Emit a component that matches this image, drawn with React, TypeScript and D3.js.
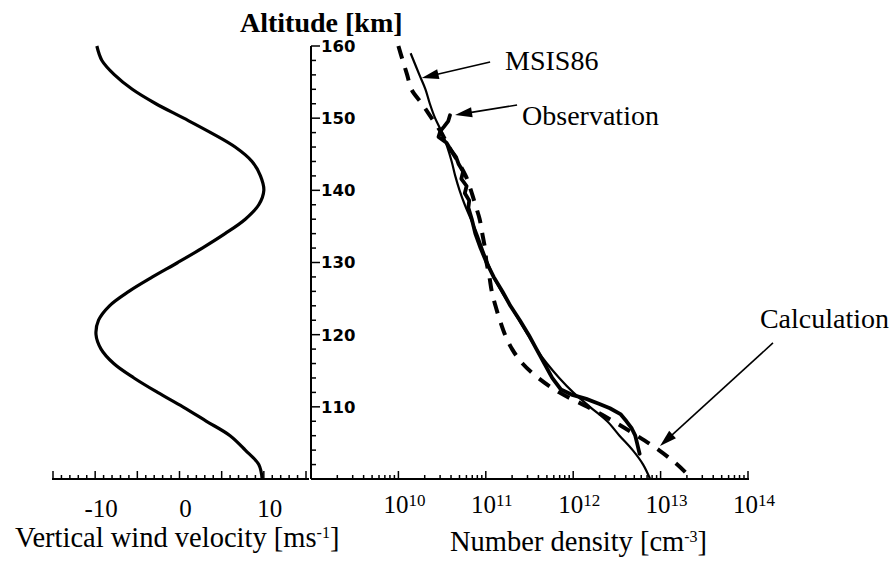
import React from 'react';
import * as d3 from 'd3';

// Vertical wind profile (altitude km, wind m/s)
const windAltitude = [100, 102, 104, 106, 108, 110, 112, 114, 116, 118, 120, 122, 124, 126, 128, 130, 132, 134, 136, 138, 140, 142, 144, 146, 148, 150, 152, 154, 156, 158, 160];
const windSpeed = [9.8, 9.4, 7.8, 6.0, 3.2, 0.4, -2.6, -5.4, -7.8, -9.3, -9.9, -9.6, -8.3, -6.0, -3.2, -0.2, 2.7, 5.4, 7.8, 9.4, 10.0, 9.6, 8.6, 6.6, 3.7, 0.5, -2.8, -5.6, -7.7, -9.2, -9.8];

// MSIS86 model density (cm^-3)
const msisAltitude = [159, 156, 154, 152, 150, 148, 146, 144, 142, 140, 138, 136, 134, 132, 130, 128, 126, 124, 122, 120, 118, 116, 114, 112, 110, 108, 106, 104, 102, 100];
const msisDensity = [1.38e10, 1.74e10, 2.04e10, 2.29e10, 2.63e10, 3.16e10, 3.63e10, 4.07e10, 4.47e10, 5.01e10, 5.75e10, 6.76e10, 7.94e10, 9.12e10, 1.05e11, 1.23e11, 1.51e11, 1.91e11, 2.40e11, 3.02e11, 3.80e11, 5.01e11, 6.92e11, 1.0e12, 1.55e12, 2.45e12, 3.39e12, 4.79e12, 6.31e12, 7.59e12];

// Observed density (cm^-3)
const obsAltitude = [150.4, 149.6, 148.8, 148.2, 147.4, 146.6, 145.6, 144.6, 143.6, 142.6, 141.6, 140.6, 139.6, 138.6, 137.6, 136, 134, 132, 130, 128, 126, 124, 122, 120, 118, 116, 114, 112.4, 111.7, 111.1, 110.4, 109.8, 109, 108, 107, 106, 105, 104, 103.5];
const obsDensity = [3.89e10, 3.72e10, 3.31e10, 3.02e10, 2.88e10, 3.55e10, 3.98e10, 4.57e10, 4.9e10, 5.5e10, 5.25e10, 6.03e10, 5.75e10, 6.46e10, 6.31e10, 6.92e10, 7.59e10, 8.71e10, 1.02e11, 1.23e11, 1.55e11, 1.91e11, 2.45e11, 3.09e11, 3.8e11, 4.68e11, 5.75e11, 7.24e11, 9.55e11, 1.41e12, 2.0e12, 2.63e12, 3.47e12, 4.07e12, 4.68e12, 5.13e12, 5.37e12, 5.62e12, 5.75e12];

// Calculated density (cm^-3)
const calcAltitude = [160, 158, 156, 154, 152, 150, 148, 146, 144, 142, 140, 138, 136, 134, 132, 130, 128, 126, 124, 122, 120, 118, 116, 114, 112, 110, 108, 106, 104, 102, 100];
const calcDensity = [1.0e10, 1.12e10, 1.26e10, 1.41e10, 1.86e10, 2.4e10, 3.09e10, 3.8e10, 4.79e10, 5.89e10, 6.76e10, 7.59e10, 8.51e10, 9.12e10, 9.77e10, 1.02e11, 1.1e11, 1.17e11, 1.29e11, 1.45e11, 1.66e11, 2.0e11, 2.63e11, 3.98e11, 6.92e11, 1.45e12, 2.88e12, 5.37e12, 9.55e12, 1.55e13, 2.29e13];

// Axis ticks
const altitudeLabels = [110, 120, 130, 140, 150, 160];
const windLabels = [-10, 0, 10];
const densityExponents = [10, 11, 12, 13, 14];

// Arrow annotations: [density, altitude] for text anchor, arrow tail and tip
const annotationLabels = ['MSIS86', 'Observation', 'Calculation'];
const annotationText = [[1.66e11, 156.67], [2.6e11, 149.05], [1.37e14, 120.92]];
const annotationTail = [[1.12e11, 157.78], [2.28e11, 151.82], [1.93e14, 118.85]];
const annotationTip = [[1.85e10, 155.57], [4.45e10, 150.44], [9.84e12, 104.57]];

const W = 893;
const H = 563;
const AXIS_Y = 479;
const serif = "'Liberation Serif', 'Times New Roman', serif";
const sans = "'DejaVu Sans', sans-serif";

export default function App() {
  const yAlt = d3.scaleLinear().domain([100, 160]).range([AXIS_Y, 46]);
  const xWind = d3.scaleLinear().domain([-15, 15]).range([53, 306]);
  const xDen = d3.scaleLog().domain([1e9, 1e14]).range([311, 748]);
  const axisX = xDen(1e9);

  const windLine = d3
    .line<number>()
    .x((_, i) => xWind(windSpeed[i]))
    .y((d) => yAlt(d))
    .curve(d3.curveCatmullRom);

  const denLine = (dens: number[], curve: d3.CurveFactory) =>
    d3
      .line<number>()
      .x((_, i) => xDen(dens[i]))
      .y((d) => yAlt(d))
      .curve(curve);

  const windTicks = d3.range(-15, 16, 1);
  const altTicks = d3.range(102, 161, 2);
  const denTicks: { v: number; major: boolean }[] = [];
  for (let e = 9; e <= 13; e++) {
    for (let m = 1; m <= 9; m++) denTicks.push({ v: m * Math.pow(10, e), major: m === 1 });
  }
  denTicks.push({ v: 1e14, major: true });

  const arrows = annotationLabels.map((label, i) => {
    const tx = xDen(annotationTail[i][0]);
    const ty = yAlt(annotationTail[i][1]);
    const px = xDen(annotationTip[i][0]);
    const py = yAlt(annotationTip[i][1]);
    const dx = px - tx;
    const dy = py - ty;
    const len = Math.hypot(dx, dy);
    const ux = dx / len;
    const uy = dy / len;
    const headL = 17;
    const headW = 5;
    const bx = px - ux * headL;
    const by = py - uy * headL;
    const head = `M${px},${py}L${bx - uy * headW},${by + ux * headW}L${bx + uy * headW},${by - ux * headW}Z`;
    return {
      label,
      line: { x1: tx, y1: ty, x2: bx + ux * 2, y2: by + uy * 2 },
      head,
      textX: xDen(annotationText[i][0]),
      textY: yAlt(annotationText[i][1]),
    };
  });

  return (
    <svg
      width={W}
      height={H}
      viewBox={`0 0 ${W} ${H}`}
      style={{ position: 'absolute', left: 0, top: 0, background: '#fff' }}
    >
      <rect x={0} y={0} width={W} height={H} fill="#fff" />

      {/* Left panel: vertical wind */}
      <path d={windLine(windAltitude) || ''} fill="none" stroke="#000" strokeWidth={3.2} strokeLinejoin="round" />
      <line x1={52} x2={309} y1={AXIS_Y} y2={AXIS_Y} stroke="#000" strokeWidth={2} />
      {windTicks.map((v) => (
        <line
          key={`wt${v}`}
          x1={xWind(v)}
          x2={xWind(v)}
          y1={AXIS_Y}
          y2={AXIS_Y - (v % 5 === 0 ? 8 : 4)}
          stroke="#000"
          strokeWidth={1.5}
        />
      ))}
      {windLabels.map((v) => (
        <text key={`wl${v}`} x={xWind(v) + 6} y={517} textAnchor="middle" fontFamily={serif} fontSize={25}>
          {v}
        </text>
      ))}
      <text x={15} y={547} fontFamily={serif} fontSize={28.5}>
        Vertical wind velocity [ms
        <tspan fontSize={16} dy={-9}>-1</tspan>
        <tspan dy={9}>]</tspan>
      </text>

      {/* Altitude axis */}
      <line x1={axisX} x2={axisX} y1={46} y2={AXIS_Y} stroke="#000" strokeWidth={2} />
      {altTicks.map((z) => (
        <line
          key={`at${z}`}
          x1={axisX}
          x2={axisX + (z % 10 === 0 ? 9 : 5)}
          y1={yAlt(z)}
          y2={yAlt(z)}
          stroke="#000"
          strokeWidth={1.5}
        />
      ))}
      {altitudeLabels.map((z) => (
        <text
          key={`al${z}`}
          x={axisX + 10}
          y={yAlt(z)}
          dy="0.36em"
          fontFamily={sans}
          fontWeight="bold"
          fontSize={16.5}
        >
          {z}
        </text>
      ))}
      <text x={240} y={32} fontFamily={serif} fontWeight="bold" fontSize={28}>
        Altitude [km]
      </text>

      {/* Right panel: number density */}
      <line x1={axisX} x2={749} y1={AXIS_Y} y2={AXIS_Y} stroke="#000" strokeWidth={2} />
      {denTicks.map((t, i) => (
        <line
          key={`dt${i}`}
          x1={xDen(t.v)}
          x2={xDen(t.v)}
          y1={AXIS_Y}
          y2={AXIS_Y - (t.major ? 8 : 4)}
          stroke="#000"
          strokeWidth={1.5}
        />
      ))}
      {densityExponents.map((e) => (
        <text key={`dl${e}`} x={xDen(Math.pow(10, e)) + 6} y={513} textAnchor="middle" fontFamily={serif} fontSize={25}>
          10
          <tspan fontSize={17} dy={-7}>{e}</tspan>
        </text>
      ))}
      <text x={450} y={551} fontFamily={serif} fontSize={28.5}>
        Number density [cm
        <tspan fontSize={16} dy={-9}>-3</tspan>
        <tspan dy={9}>]</tspan>
      </text>

      <path
        d={denLine(msisDensity, d3.curveCatmullRom)(msisAltitude) || ''}
        fill="none"
        stroke="#000"
        strokeWidth={2.2}
      />
      <path
        d={denLine(obsDensity, d3.curveLinear)(obsAltitude) || ''}
        fill="none"
        stroke="#000"
        strokeWidth={3.8}
        strokeLinejoin="round"
        strokeLinecap="round"
      />
      <path
        d={denLine(calcDensity, d3.curveCatmullRom)(calcAltitude) || ''}
        fill="none"
        stroke="#000"
        strokeWidth={4}
        strokeDasharray="13 10"
      />

      {arrows.map((a) => (
        <g key={a.label}>
          <line {...a.line} stroke="#000" strokeWidth={1.6} />
          <path d={a.head} fill="#000" />
          <text x={a.textX} y={a.textY} fontFamily={serif} fontSize={28}>
            {a.label}
          </text>
        </g>
      ))}
    </svg>
  );
}
